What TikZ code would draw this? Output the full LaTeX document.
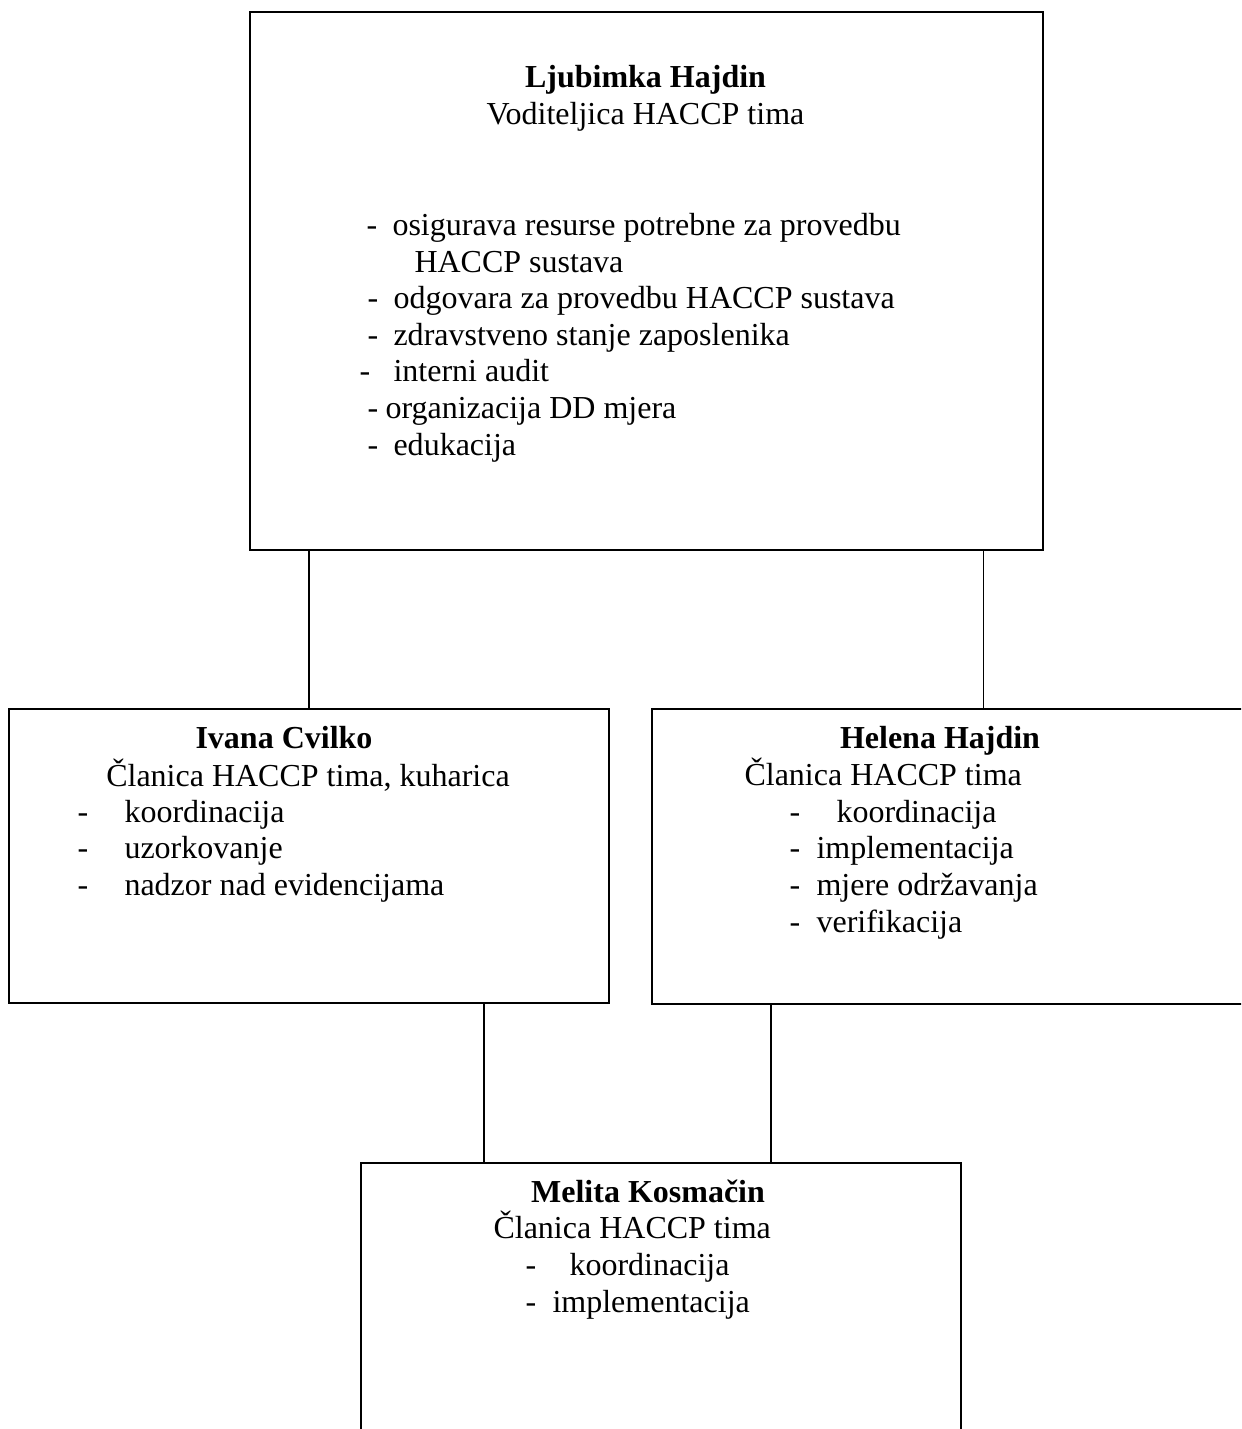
\documentclass[tikz,border=0pt]{standalone}
\usepackage{fontspec}
\setmainfont{Liberation Serif}
\begin{document}
\begin{tikzpicture}[
		x=0.375pt, y=-0.375pt,
		box/.style={draw, line width=0.6pt, rectangle, inner sep=0pt, anchor=north west},
		person/.style={font=\fontsize{12pt}{13.8pt}\selectfont\bfseries, anchor=base, inner sep=0pt},
		role/.style={font=\fontsize{12pt}{13.8pt}\selectfont, inner sep=0pt},
		itemline/.style={font=\fontsize{12pt}{13.8pt}\selectfont, anchor=base west, inner sep=0pt},
		link/.style={line width=0.6pt}
	]
		\clip (0,0) rectangle (1241,1429);
		% boxes
		\node[box, minimum width=793*0.375pt, minimum height=538*0.375pt] (ljubimka) at (249,11) {};
		\node[box, minimum width=600*0.375pt, minimum height=294*0.375pt] (ivana) at (8,708) {};
		\node[box, minimum width=600*0.375pt, minimum height=295*0.375pt] (helena) at (651,708) {};
		\node[box, minimum width=600*0.375pt, minimum height=300*0.375pt] (melita) at (360,1162) {};
		% top box
		\node[person] (ljubimkaname) at (645.5,88) {Ljubimka Hajdin};
		\node[role, anchor=base] (ljubimkarole) at (645.5,125) {Voditeljica HACCP tima};
		\foreach \yy/\xx/\txt [count=\k] in {236/392/osigurava resurse potrebne za provedbu,
				273/414/HACCP sustava, 309/393/odgovara za provedbu HACCP sustava,
				346/393/zdravstveno stanje zaposlenika, 382/393/interni audit,
				419/385/organizacija DD mjera, 456/393/edukacija} {
			\node[itemline] (lt\k) at (\xx,\yy) {\txt};
		}
		\foreach \yy/\xx [count=\k] in {236/366, 309/367, 346/367, 382/359, 419/367, 456/367} {
			\node[itemline] (ld\k) at (\xx,\yy) {-};
		}
		% left box
		\node[person] (ivananame) at (284,748) {Ivana Cvilko};
		\node[role, anchor=base] (ivanarole) at (308,786) {Članica HACCP tima, kuharica};
		\foreach \yy/\txt [count=\k] in {822/koordinacija, 858/uzorkovanje, 895/nadzor nad evidencijama} {
			\node[itemline] (id\k) at (77,\yy) {-};
			\node[itemline] (it\k) at (124,\yy) {\txt};
		}
		% right box
		\node[person] (helenaname) at (940,748) {Helena Hajdin};
		\node[role, anchor=base west] (helenarole) at (744,785) {Članica HACCP tima};
		\foreach \yy/\xx/\txt [count=\k] in {822/836/koordinacija, 858/816/implementacija,
				895/816/mjere održavanja, 932/816/verifikacija} {
			\node[itemline] (hd\k) at (789,\yy) {-};
			\node[itemline] (ht\k) at (\xx,\yy) {\txt};
		}
		% bottom box
		\node[person] (melitaname) at (648,1202) {Melita Kosmačin};
		\node[role, anchor=base west] (melitarole) at (493,1238) {Članica HACCP tima};
		\foreach \yy/\xx/\txt [count=\k] in {1275/569/koordinacija, 1312/552/implementacija} {
			\node[itemline] (md\k) at (525,\yy) {-};
			\node[itemline] (mt\k) at (\xx,\yy) {\txt};
		}
		% connectors
		\path (helena.north west) ++(332.5,0) coordinate (hup);
		\path (melita.north west) ++(124,0) coordinate (mleft);
		\path (melita.north west) ++(411,0) coordinate (mright);
		\draw[link] (ivana.north) -- (ivana.north |- ljubimka.south);
		\draw[link] (hup) -- (hup |- ljubimka.south);
		\draw[link] (mleft) -- (mleft |- ivana.south);
		\draw[link] (mright) -- (mright |- helena.south);
	\end{tikzpicture}
\end{document}
